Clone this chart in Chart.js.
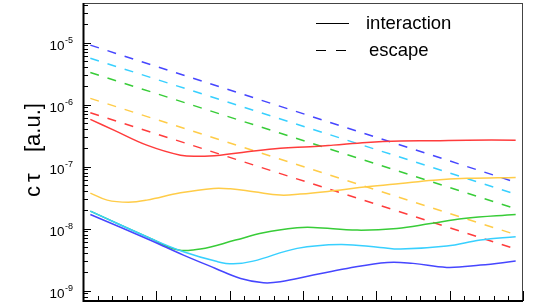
<!DOCTYPE html>
<html>
<head>
<meta charset="utf-8">
<script src="https://cdn.jsdelivr.net/npm/chart.js@4.4.1/dist/chart.umd.min.js"></script>
<style>
  html, body { margin: 0; padding: 0; background: #fff; }
</style>
</head>
<body>
<canvas id="chart" width="538" height="305"></canvas>
<script>
// Valori (asse y logaritmico)
const decades = [-9, -8, -7, -6, -5];

// linee tratteggiate (escape): solo estremi
const escapeX = [0.1, 5.9];
const escapeBlue = [9.1e-6, 5.6e-8];
const escapeCyan = [5.6e-6, 3.6e-8];
const escapeGreen = [3.3e-6, 2.1e-8];
const escapeYellow = [1.26e-6, 8.0e-9];
const escapeRed = [7.4e-7, 4.7e-9];

// linee continue (interaction)
const blueX = [0.1, 0.92, 1.37, 1.8, 2.15, 2.46, 2.69, 3.14, 3.6, 4.15, 4.5, 4.96, 5.42, 5.9];
const blueY = [1.69e-8, 6.5e-9, 3.74e-9, 2.3e-9, 1.57e-9, 1.34e-9, 1.39e-9, 1.78e-9, 2.28e-9, 2.85e-9, 2.75e-9, 2.37e-9, 2.58e-9, 2.99e-9];

const cyanX = [0.1, 0.92, 1.37, 1.83, 2.05, 2.32, 2.92, 3.51, 4.05, 4.33, 4.96, 5.42, 5.9];
const cyanY = [1.91e-8, 6.95e-9, 4.23e-9, 2.94e-9, 2.7e-9, 2.99e-9, 4.8e-9, 5.56e-9, 4.98e-9, 4.67e-9, 5.22e-9, 6.53e-9, 7.38e-9];

const greenX = [0.1, 0.92, 1.27, 1.6, 2.08, 2.46, 2.92, 3.14, 3.74, 4.28, 4.74, 5.19, 5.9];
const greenY = [1.91e-8, 6.95e-9, 4.62e-9, 4.67e-9, 6.53e-9, 8.55e-9, 1.03e-8, 1.045e-8, 9.46e-9, 1.007e-8, 1.21e-8, 1.46e-8, 1.69e-8];

const yellowX = [0.1, 0.33, 0.62, 0.87, 1.33, 1.78, 2.01, 2.33, 2.69, 2.96, 3.41, 3.87, 4.33, 4.78, 5.24, 5.9];
const yellowY = [3.74e-8, 2.88e-8, 2.67e-8, 2.88e-8, 3.78e-8, 4.45e-8, 4.38e-8, 3.93e-8, 3.47e-8, 3.6e-8, 4.07e-8, 4.72e-8, 5.36e-8, 6.05e-8, 6.46e-8, 6.7e-8];

const redX = [0.1, 0.42, 0.87, 1.33, 1.6, 1.87, 2.24, 2.69, 3.1, 3.41, 3.87, 4.33, 4.78, 5.24, 5.9];
const redY = [5.77e-7, 3.88e-7, 2.22e-7, 1.53e-7, 1.47e-7, 1.53e-7, 1.73e-7, 1.97e-7, 2.09e-7, 2.22e-7, 2.45e-7, 2.58e-7, 2.61e-7, 2.67e-7, 2.67e-7];

const colors = {
    blue: '#4646ff',
    cyan: '#38d0ff',
    green: '#38cc38',
    yellow: '#ffcc48',
    red: '#ff3c3c'
};

function pts(xs, ys) {
    return xs.map((x, i) => ({ x: x, y: ys[i] }));
}

function solid(xs, ys, color) {
    return {
        data: pts(xs, ys),
        borderColor: color,
        borderWidth: 1.5,
        pointRadius: 0,
        tension: 0.4,
        fill: false
    };
}

function dashed(ys, color) {
    return {
        data: pts(escapeX, ys),
        borderColor: color,
        borderWidth: 1.5,
        borderDash: [9, 9],
        pointRadius: 0,
        fill: false
    };
}

// Cornice, tacche, etichette e legenda disegnate a mano (stile ROOT)
const rootStyle = {
    id: 'rootStyle',
    afterDraw(chart) {
        const ctx = chart.ctx;
        const a = chart.chartArea;
        const xs = chart.scales.x;
        const ys = chart.scales.y;
        ctx.save();

        // cornice
        ctx.strokeStyle = '#444';
        ctx.lineWidth = 1;
        ctx.strokeRect(a.left + 0.5, a.top + 0.5, a.right - a.left - 1, a.bottom - a.top - 1);
        ctx.strokeStyle = '#000';
        ctx.lineWidth = 2;
        ctx.beginPath();
        ctx.moveTo(a.left + 0.5, a.top);
        ctx.lineTo(a.left + 0.5, a.bottom);
        ctx.lineTo(a.right, a.bottom);
        ctx.stroke();

        // tacche asse y
        ctx.lineWidth = 1;
        for (let e = -10; e <= -4; e++) {
            for (let m = 1; m <= 9; m++) {
                const v = m * Math.pow(10, e);
                if (v < ys.min || v > ys.max) continue;
                const py = Math.round(ys.getPixelForValue(v)) + 0.5;
                const len = m === 1 ? 8 : 5;
                ctx.beginPath();
                ctx.moveTo(a.left, py);
                ctx.lineTo(a.left + len, py);
                ctx.stroke();
            }
        }

        // tacche asse x
        for (let i = 0; i <= 30; i++) {
            const v = i * 0.2;
            const px = Math.round(xs.getPixelForValue(v)) + 0.5;
            const len = i % 5 === 0 ? 10 : 5;
            ctx.beginPath();
            ctx.moveTo(px, a.bottom);
            ctx.lineTo(px, a.bottom - len);
            ctx.stroke();
        }

        // etichette 10^n
        ctx.fillStyle = '#000';
        ctx.textBaseline = 'alphabetic';
        decades.forEach(d => {
            const py = ys.getPixelForValue(Math.pow(10, d));
            ctx.font = '13.5px "Liberation Sans", Arial, sans-serif';
            ctx.textAlign = 'right';
            ctx.fillText('10', 64.5, py + 7);
            ctx.font = '9px "Liberation Sans", Arial, sans-serif';
            ctx.textAlign = 'left';
            ctx.fillText(String(d), 65, py);
        });

        // titolo asse y
        ctx.save();
        ctx.translate(40, 197);
        ctx.rotate(-Math.PI / 2);
        ctx.font = '22px "Liberation Sans", Arial, sans-serif';
        ctx.textAlign = 'left';
        ctx.fillText('c', 0, 0);
        ctx.fillText('\u03c4', 15, 0);
        ctx.fillText('[a.u.]', 45, 0);
        ctx.restore();

        // legenda
        ctx.strokeStyle = '#000';
        ctx.lineWidth = 1;
        ctx.beginPath();
        ctx.moveTo(316, 23.5);
        ctx.lineTo(349, 23.5);
        ctx.stroke();
        ctx.setLineDash([10, 10]);
        ctx.beginPath();
        ctx.moveTo(316, 50.5);
        ctx.lineTo(346, 50.5);
        ctx.stroke();
        ctx.setLineDash([]);
        ctx.font = '18.5px "Liberation Sans", Arial, sans-serif';
        ctx.textAlign = 'left';
        ctx.fillText('interaction', 366, 29);
        ctx.fillText('escape', 369, 56);

        ctx.restore();
    }
};

new Chart(document.getElementById('chart').getContext('2d'), {
    type: 'line',
    data: {
        datasets: [
            solid(redX, redY, colors.red),
            solid(yellowX, yellowY, colors.yellow),
            solid(blueX, blueY, colors.blue),
            solid(cyanX, cyanY, colors.cyan),
            solid(greenX, greenY, colors.green),
            dashed(escapeBlue, colors.blue),
            dashed(escapeCyan, colors.cyan),
            dashed(escapeGreen, colors.green),
            dashed(escapeYellow, colors.yellow),
            dashed(escapeRed, colors.red)
        ]
    },
    options: {
        responsive: false,
        animation: false,
        devicePixelRatio: 1,
        layout: { padding: { left: 83, right: 15, top: 3, bottom: 4 } },
        plugins: { legend: { display: false }, tooltip: { enabled: false } },
        scales: {
            x: { type: 'linear', min: 0, max: 6, display: false },
            y: { type: 'logarithmic', min: 6.8e-10, max: 4.35e-5, display: false }
        }
    },
    plugins: [rootStyle]
});
</script>
</body>
</html>
